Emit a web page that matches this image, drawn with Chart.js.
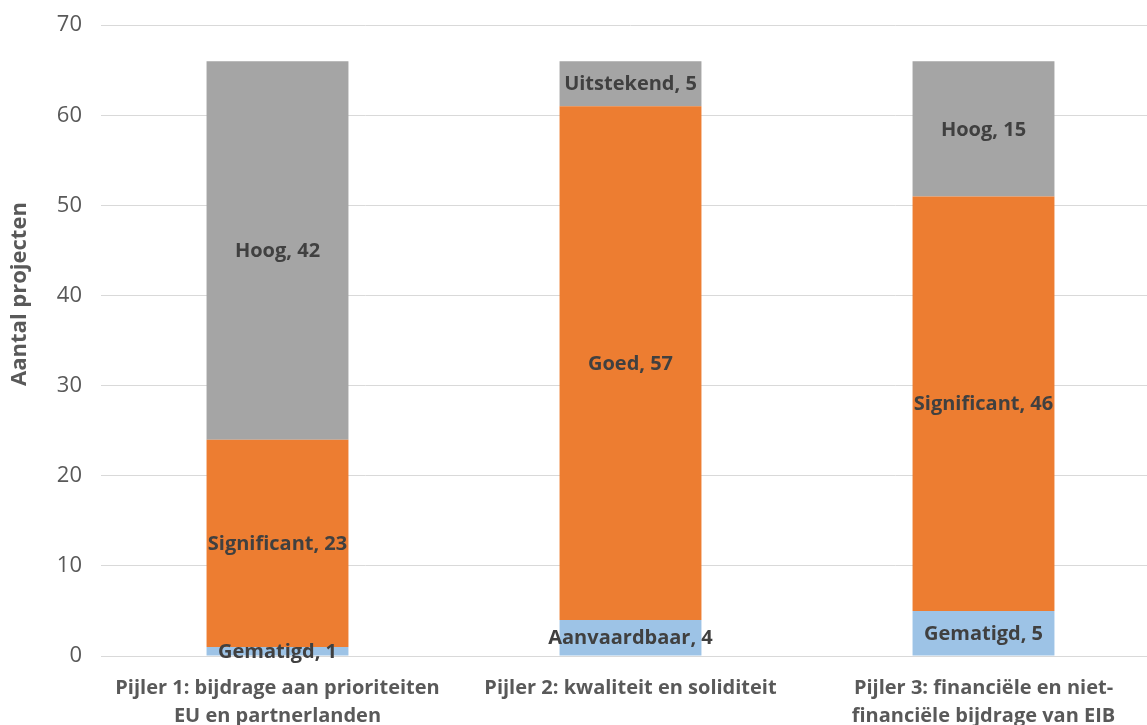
<!DOCTYPE html>
<html>
<head>
<meta charset="utf-8">
<script src="https://cdn.jsdelivr.net/npm/chart.js@4"></script>
<style>
  html, body { margin: 0; padding: 0; background: #fff; overflow: hidden; width: 1147px; height: 725px; }
  /* canvas a bit larger than the window: plot area runs past the right edge like the original */
  #wrap { width: 1160px; height: 732px; position: absolute; left: 0; top: -7px; }
</style>
</head>
<body>
<div id="wrap"><canvas id="chart"></canvas></div>
<script>
// Stacked bar: evaluation of projects per pillar
const categories = [
  ['Pijler 1: bijdrage aan prioriteiten', 'EU en partnerlanden'],
  'Pijler 2: kwaliteit en soliditeit',
  ['Pijler 3: financiële en niet-', 'financiële bijdrage van EIB']
];
const bottomValues = [1, 4, 5];
const bottomNames = ['Gematigd', 'Aanvaardbaar', 'Gematigd'];
const middleValues = [23, 57, 46];
const middleNames = ['Significant', 'Goed', 'Significant'];
const topValues = [42, 5, 15];
const topNames = ['Hoog', 'Uitstekend', 'Hoog'];
const yTicks = [0, 10, 20, 30, 40, 50, 60, 70];
const yTitle = 'Aantal projecten';

const FONT = "'Open Sans', 'Liberation Sans', sans-serif";

// draws "Name, value" centred in each segment, plus the y title
const segmentLabels = {
  id: 'segmentLabels',
  afterDatasetsDraw(chart) {
    const ctx = chart.ctx;
    ctx.save();
    ctx.font = 'bold 20px ' + FONT;
    ctx.fillStyle = '#404040';
    ctx.textAlign = 'center';
    ctx.textBaseline = 'middle';
    chart.data.datasets.forEach((ds, di) => {
      const meta = chart.getDatasetMeta(di);
      meta.data.forEach((bar, i) => {
        const y = (bar.y + bar.base) / 2;
        ctx.fillText(ds.names[i] + ', ' + ds.data[i], bar.x, y + 1);
      });
    });
    // y axis title, sits a bit above the middle as in the original
    ctx.translate(20, 301);
    ctx.rotate(-Math.PI / 2);
    ctx.font = 'bold 22px ' + FONT;
    ctx.fillStyle = '#595959';
    ctx.fillText(yTitle, 0, 0);
    ctx.restore();
  }
};

new Chart(document.getElementById('chart'), {
  type: 'bar',
  data: {
    labels: categories,
    datasets: [
      { data: bottomValues, names: bottomNames, backgroundColor: '#9dc3e6' },
      { data: middleValues, names: middleNames, backgroundColor: '#ed7d31' },
      { data: topValues, names: topNames, backgroundColor: '#a5a5a5' }
    ]
  },
  options: {
    responsive: true,
    maintainAspectRatio: false,
    animation: false,
    layout: { padding: { top: 0, right: 0, left: 8, bottom: 0 } },
    datasets: { bar: { categoryPercentage: 1, barPercentage: 0.402 } },
    plugins: { legend: { display: false }, tooltip: { enabled: false } },
    scales: {
      x: {
        stacked: true,
        grid: { display: false },
        border: { color: '#d9d9d9', width: 1 },
        ticks: { color: '#595959', font: { family: FONT, size: 20, weight: 'bold', lineHeight: 1.4 }, maxRotation: 0, padding: 10 },
        afterFit(scale) { scale.height = 69; }
      },
      y: {
        stacked: true,
        min: 0, max: 70,
        afterBuildTicks(scale) { scale.ticks = yTicks.map(v => ({ value: v })); },
        grid: { color: '#d9d9d9', drawTicks: false },
        border: { display: false },
        ticks: { color: '#595959', font: { family: FONT, size: 22 }, padding: 19 },
        afterFit(scale) { scale.width = 93; }
      }
    }
  },
  plugins: [segmentLabels]
});
</script>
</body>
</html>
